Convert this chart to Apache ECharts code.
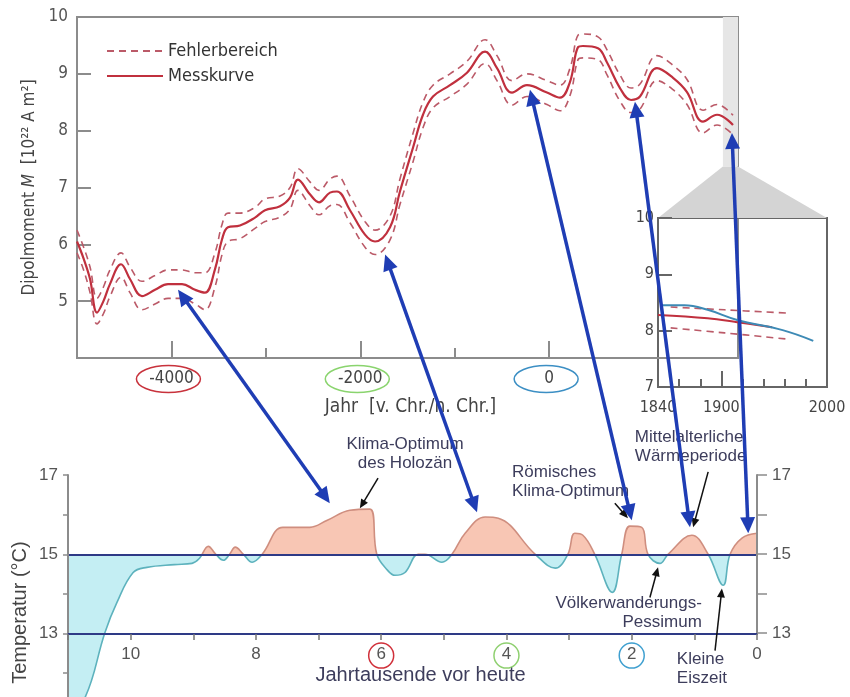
<!DOCTYPE html>
<html><head><meta charset="utf-8">
<script src="https://cdn.jsdelivr.net/npm/echarts@6/dist/echarts.min.js"></script>
<style>html,body{margin:0;padding:0;background:#fff}#c{width:850px;height:697px}</style>
</head><body><div id="c"></div>
<script>
// ===== Top chart: Dipolmoment =====
const years = [-5000,-4930,-4862,-4788,-4720,-4651,-4534,-4439,-4312,-4174,-4036,-3888,-3750,-3645,-3539,-3464,-3401,-3274,-3115,-3009,-2850,-2744,-2660,-2533,-2437,-2321,-2247,-2109,-1950,-1844,-1685,-1580,-1442,-1336,-1230,-1050,-870,-679,-552,-393,-235,-23,115,221,306,358,517,613,750,867,962,1142,1312,1460,1629,1778,1947];
const dipole = [6.05,5.75,5.39,4.8,5.0,5.3,5.65,5.39,5.09,5.2,5.3,5.3,5.2,5.15,5.56,6.09,6.3,6.33,6.47,6.6,6.67,6.82,7.14,6.88,6.74,6.91,6.93,6.6,6.17,6.05,6.3,6.93,7.7,8.28,8.6,8.8,9.02,9.39,9.1,8.67,8.8,8.67,8.58,8.86,9.47,9.49,9.45,9.2,8.75,8.54,8.6,9.1,8.93,8.68,8.16,8.28,8.1];
const dipoleUpper = [6.25,5.95,5.6,5.05,5.25,5.55,5.85,5.6,5.35,5.45,5.55,5.55,5.5,5.5,5.85,6.35,6.55,6.55,6.65,6.8,6.85,7.0,7.33,7.1,6.95,7.15,7.2,6.85,6.4,6.25,6.5,7.15,7.95,8.5,8.8,9.0,9.22,9.6,9.32,8.88,9.0,8.88,8.8,9.1,9.68,9.7,9.65,9.42,8.98,8.75,8.82,9.32,9.15,8.9,8.36,8.46,8.27];
const dipoleLower = [5.85,5.55,5.15,4.6,4.78,5.08,5.42,5.15,4.85,4.95,5.05,5.05,4.95,4.85,5.25,5.82,6.05,6.1,6.28,6.4,6.48,6.62,6.95,6.68,6.52,6.68,6.7,6.38,5.95,5.82,6.08,6.7,7.45,8.05,8.4,8.6,8.82,9.18,8.88,8.45,8.6,8.46,8.35,8.62,9.25,9.28,9.25,8.98,8.52,8.32,8.38,8.88,8.72,8.46,7.96,8.1,7.93];
const topMajorTicks = [-4000, -2000, 0];
const topMinorTicks = [-3000, -1000];
const topTickColors = ['#c8323c', '#8ad46e', '#3c8fc4'];
const zoomRange = [1840, 2000];
const zoomBandBottom = 7.37;

// ===== Inset 1840-2000 =====
const insetRedYears = [1840, 1887, 1915, 1948];
const insetRed = [8.28, 8.22, 8.15, 8.06];
const insetUpperYears = [1852, 1903, 1965];
const insetUpper = [8.42, 8.37, 8.31];
const insetLowerYears = [1852, 1903, 1963];
const insetLower = [8.05, 7.96, 7.85];
const insetBlueYears = [1842, 1865, 1887, 1915, 1958, 1987];
const insetBlue = [8.45, 8.45, 8.37, 8.19, 8.01, 7.82];
const insetXLabels = [1840, 1900, 2000];

// ===== Bottom chart: Temperatur =====
const tempKyr = [11.0,10.73,10.41,10.22,9.96,9.74,9.3,9.02,8.9,8.76,8.64,8.52,8.42,8.33,8.2,8.06,7.9,7.57,7.14,6.86,6.5,6.18,6.07,5.9,5.78,5.62,5.41,5.3,5.03,4.87,4.66,4.34,4.13,3.54,3.22,3.02,2.91,2.78,2.59,2.31,2.16,2.03,1.84,1.74,1.55,1.42,1.04,0.78,0.54,0.43,0.24,0.0];
const tempVal = [11.0,11.38,13.03,13.78,14.54,14.67,14.74,14.77,14.9,15.2,15.0,14.85,15.0,15.18,15.0,14.8,15.0,15.68,15.68,15.86,16.11,16.14,15.0,14.6,14.47,14.54,15.0,15.0,14.8,15.0,15.53,15.94,15.91,15.0,14.65,15.0,15.53,15.48,15.0,14.04,15.0,15.71,15.68,15.0,14.77,15.0,15.48,15.0,14.22,15.0,15.41,15.53];
const tempMean = 15;
const botXLabels = [10, 8, 6, 4, 2, 0];
const botCircled = [6, 4, 2];
const botCircleColors = ['#d0303a', '#8fd070', '#40a0d0'];
const botYTicks = [12, 13, 14, 15, 16, 17];
const botYLabels = [13, 15, 17];

// ===== Annotations =====
const noteTexts = ['Klima-Optimum\ndes Holozän', 'Römisches\nKlima-Optimum', 'Mittelalterliche\nWärmeperiode', 'Völkerwanderungs-\nPessimum', 'Kleine\nEiszeit'];
const noteAnchor = [[5.62, 17.53], [3.91, 16.82], [1.95, 17.71], [0.88, 13.53], [1.28, 12.11]];
const noteAlign = ['center', 'left', 'left', 'right', 'left'];
const noteArrowFrom = [[6.05, 16.92], [2.27, 16.29], [0.78, 17.08], [1.71, 13.91], [0.67, 12.57]];
const noteArrowTo = [[6.34, 16.16], [2.06, 15.91], [1.02, 15.68], [1.58, 14.67], [0.56, 14.14]];
const linkTop = [[-3930, 5.2], [-1737, 5.82], [-203, 8.72], [909, 8.51], [1936, 7.96]];
const linkBottom = [[6.82, 16.29], [4.47, 16.06], [2.0, 15.86], [1.07, 15.68], [0.14, 15.53]];

const zip = (a, b) => a.map((v, i) => [v, b[i]]);
const topFont = "'DejaVu Sans Condensed', 'Liberation Sans Narrow', 'DejaVu Sans', sans-serif";
const botFont = "'Liberation Sans', Arial, sans-serif";
const gray = '#8c8c8c';
const navy = '#2e3a86';
const noteColor = '#3d3d5c';
const redLine = '#c0303e';
const redDash = '#bb5a68';
const plain = v => String(v);
const botMin = 11.4, botMax = 17, botAxisAt = 13;

const chart = echarts.init(document.getElementById('c'));

const option = {
  animation: false,
  legend: {
    data: ['Fehlerbereich', 'Messkurve'], orient: 'vertical', left: 101, top: 37,
    itemWidth: 56, itemHeight: 12, itemGap: 7, itemStyle: {opacity: 0},
    textStyle: {fontFamily: topFont, fontSize: 18, color: '#333'}
  },
  grid: [
    {left: 77, top: 17, width: 661, height: 341, show: true, borderColor: gray, borderWidth: 2},
    {left: 658, top: 218, width: 169, height: 169, show: true, borderColor: '#666', borderWidth: 2},
    {left: 68, top: 475, width: 689, height: 222},
    {left: 68, top: 475, width: 689, height: 158}
  ],
  xAxis: [
    {gridIndex: 0, type: 'value', position: 'bottom', min: -5000, max: 2000, interval: 1000, splitLine: {show: false},
     axisLine: {onZero: false, lineStyle: {color: gray, width: 2}},
     axisTick: {inside: true, length: 17, customValues: topMajorTicks, lineStyle: {color: gray, width: 2}},
     axisLabel: {customValues: topMajorTicks, formatter: plain, margin: 12, fontFamily: topFont, fontSize: 17, color: '#444'},
     name: 'Jahr  [v. Chr./n. Chr.]', nameLocation: 'middle', nameGap: 40,
     nameTextStyle: {fontFamily: topFont, fontSize: 19, color: '#444', padding: [0, 0, 0, 6]}},
    {gridIndex: 0, type: 'value', position: 'bottom', min: -5000, max: 2000, interval: 1000, splitLine: {show: false},
     axisLine: {show: false, onZero: false},
     axisTick: {inside: true, length: 10, customValues: topMinorTicks, lineStyle: {color: gray, width: 2}},
     axisLabel: {show: false}},
    {gridIndex: 1, type: 'value', position: 'bottom', min: 1840, max: 2000, interval: 20, splitLine: {show: false},
     axisLine: {onZero: false, lineStyle: {color: '#666', width: 2}},
     axisTick: {inside: true, length: 8, lineStyle: {color: '#666', width: 2}},
     axisLabel: {customValues: insetXLabels, formatter: plain, margin: 13, fontFamily: topFont, fontSize: 16, color: '#444'}},
    {gridIndex: 1, type: 'value', position: 'bottom', min: 1840, max: 2000, splitLine: {show: false},
     axisLine: {show: false, onZero: false},
     axisTick: {inside: true, length: 16, customValues: [1900], lineStyle: {color: '#666', width: 2}},
     axisLabel: {show: false}},
    {gridIndex: 2, type: 'value', position: 'bottom', min: 0, max: 11, interval: 1, inverse: true, z: 6,
     offset: -Math.round((botAxisAt - botMin) / (botMax - botMin) * 222), splitLine: {show: false},
     axisLine: {onZero: false, lineStyle: {color: navy, width: 2}},
     axisTick: {length: 6, lineStyle: {color: '#777', width: 1.5}},
     axisLabel: {customValues: botXLabels, formatter: plain, margin: 12, fontFamily: botFont, fontSize: 17, color: '#555'},
     name: 'Jahrtausende vor heute', nameLocation: 'middle', nameGap: 31,
     nameTextStyle: {fontFamily: botFont, fontSize: 20, color: noteColor, padding: [0, 0, 0, 16]}},
    {gridIndex: 3, type: 'value', position: 'bottom', min: 0, max: 11, inverse: true, show: false}
  ],
  yAxis: [
    {gridIndex: 0, type: 'value', position: 'left', min: 4, max: 10, interval: 1, splitLine: {show: false},
     axisLine: {onZero: false, lineStyle: {color: gray, width: 2}},
     axisTick: {inside: true, length: 14, lineStyle: {color: gray, width: 2}},
     axisLabel: {formatter: v => (v === 4 ? '' : String(v)), margin: 9, fontFamily: topFont, fontSize: 17, color: '#555'},
     name: '{a|Dipolmoment }{i|M}{a|  [10²² A m²]}', nameLocation: 'middle', nameGap: 31,
     nameTextStyle: {rich: {a: {fontFamily: topFont, fontSize: 17, color: '#444'}, i: {fontFamily: topFont, fontSize: 17, fontStyle: 'italic', color: '#444'}}}},
    {gridIndex: 1, type: 'value', position: 'left', min: 7, max: 10, interval: 1, splitLine: {show: false},
     axisLine: {onZero: false, lineStyle: {color: '#666', width: 2}},
     axisTick: {inside: true, length: 14, lineStyle: {color: '#666', width: 2}},
     axisLabel: {margin: 4, fontFamily: topFont, fontSize: 16, color: '#444'}},
    {gridIndex: 2, type: 'value', position: 'left', min: botMin, max: botMax, z: 6, splitLine: {show: false},
     axisLine: {onZero: false, lineStyle: {color: gray, width: 2}},
     axisTick: {length: 5, customValues: botYTicks, lineStyle: {color: gray, width: 1.5}},
     axisLabel: {customValues: botYLabels, formatter: plain, margin: 10, fontFamily: botFont, fontSize: 17, color: '#555'}},
    {gridIndex: 3, type: 'value', position: 'right', min: 13, max: 17, interval: 1, z: 6, splitLine: {show: false},
     axisLine: {onZero: false, lineStyle: {color: gray, width: 2}},
     axisTick: {length: 10, lineStyle: {color: gray, width: 1.5}},
     axisLabel: {customValues: botYLabels, formatter: plain, margin: 15, fontFamily: botFont, fontSize: 17, color: '#555'}}
  ],
  visualMap: [
    {type: 'piecewise', show: false, seriesIndex: 7, dimension: 1,
     pieces: [{gte: 5, lt: tempMean, color: '#c4eef3'}, {gte: tempMean, lte: 25, color: '#f8c6b4'}]},
    {type: 'piecewise', show: false, seriesIndex: 8, dimension: 1,
     pieces: [{gte: 5, lt: tempMean, color: '#5db2bd'}, {gte: tempMean, lte: 25, color: '#cf8e7f'}]}
  ],
  series: [
    {name: 'Fehlerbereich', type: 'line', xAxisIndex: 0, yAxisIndex: 0, data: zip(years, dipoleUpper), smooth: 0.4, symbol: 'none',
     lineStyle: {color: redDash, width: 1.6, type: [7, 5]}, itemStyle: {color: redDash},
     markArea: {silent: true, itemStyle: {color: '#e6e6e6'}, data: [[{coord: [zoomRange[0], zoomBandBottom]}, {coord: [zoomRange[1], 10]}]]}},
    {name: 'Fehlerbereich', type: 'line', xAxisIndex: 0, yAxisIndex: 0, data: zip(years, dipoleLower), smooth: 0.4, symbol: 'none',
     lineStyle: {color: redDash, width: 1.6, type: [7, 5]}, itemStyle: {color: redDash}},
    {name: 'Messkurve', type: 'line', xAxisIndex: 0, yAxisIndex: 0, data: zip(years, dipole), smooth: 0.4, symbol: 'none',
     lineStyle: {color: redLine, width: 2.2}, itemStyle: {color: redLine}},
    {name: 'inset-mess', type: 'line', xAxisIndex: 2, yAxisIndex: 1, data: zip(insetRedYears, insetRed), smooth: 0.4, symbol: 'none',
     lineStyle: {color: redLine, width: 2}},
    {name: 'inset-up', type: 'line', xAxisIndex: 2, yAxisIndex: 1, data: zip(insetUpperYears, insetUpper), smooth: 0.4, symbol: 'none',
     lineStyle: {color: redDash, width: 1.6, type: [7, 5]}},
    {name: 'inset-low', type: 'line', xAxisIndex: 2, yAxisIndex: 1, data: zip(insetLowerYears, insetLower), smooth: 0.4, symbol: 'none',
     lineStyle: {color: redDash, width: 1.6, type: [7, 5]}},
    {name: 'inset-blue', type: 'line', xAxisIndex: 2, yAxisIndex: 1, data: zip(insetBlueYears, insetBlue), smooth: 0.4, symbol: 'none',
     lineStyle: {color: '#3d8ab5', width: 2}},
    {name: 'temp-area', type: 'line', xAxisIndex: 4, yAxisIndex: 2, data: zip(tempKyr, tempVal), smooth: 0.4, symbol: 'none',
     lineStyle: {width: 0}, areaStyle: {origin: tempMean, opacity: 1}},
    {name: 'temp-line', type: 'line', xAxisIndex: 4, yAxisIndex: 2, data: zip(tempKyr, tempVal), smooth: 0.4, symbol: 'none',
     lineStyle: {width: 1.6}, z: 3,
     markLine: {silent: true, symbol: 'none', label: {show: false}, lineStyle: {color: navy, width: 2, type: 'solid'}, data: [{yAxis: tempMean}]}}
  ]
};
chart.setOption(option);

// ===== Annotations drawn through the axis scales =====
const P = (xi, yi, p) => chart.convertToPixel({xAxisIndex: xi, yAxisIndex: yi}, p);
const topPx = p => P(0, 0, p), insetPx = p => P(2, 1, p), botPx = p => P(4, 2, p);

function arrowEls(p1, p2, color, lw, headLen, headW, both, z) {
  const dx = p2[0] - p1[0], dy = p2[1] - p1[1], L = Math.hypot(dx, dy);
  const ux = dx / L, uy = dy / L, nx = -uy, ny = ux;
  const head = (t, dx2, dy2) => ({type: 'polygon', z, shape: {points: [[t[0], t[1]],
    [t[0] - dx2 * headLen + nx * headW, t[1] - dy2 * headLen + ny * headW],
    [t[0] - dx2 * headLen - nx * headW, t[1] - dy2 * headLen - ny * headW]]}, style: {fill: color}});
  const a = both ? [p1[0] + ux * headLen * 0.7, p1[1] + uy * headLen * 0.7] : p1;
  const b = [p2[0] - ux * headLen * 0.7, p2[1] - uy * headLen * 0.7];
  const els = [{type: 'line', z, shape: {x1: a[0], y1: a[1], x2: b[0], y2: b[1]}, style: {stroke: color, lineWidth: lw}}, head(p2, ux, uy)];
  if (both) els.push(head(p1, -ux, -uy));
  return els;
}

const g = [];
const b1 = topPx([zoomRange[0], zoomBandBottom]), b2 = topPx([zoomRange[1], zoomBandBottom]);
const i1 = insetPx([zoomRange[1], 10]), i2 = insetPx([zoomRange[0], 10]);
g.push({type: 'polygon', z: 0, shape: {points: [b1, b2, i1, i2]}, style: {fill: '#d4d4d4'}});
topMajorTicks.forEach((v, i) => {
  const p = topPx([v, 4]);
  g.push({type: 'ellipse', z: 5, shape: {cx: p[0] - 3, cy: p[1] + 21, rx: 32, ry: 13.5}, style: {fill: 'none', stroke: topTickColors[i], lineWidth: 1.5}});
});
botCircled.forEach((v, i) => {
  const p = botPx([v, botAxisAt]);
  g.push({type: 'circle', z: 5, shape: {cx: p[0], cy: p[1] + 22, r: 12.5}, style: {fill: 'none', stroke: botCircleColors[i], lineWidth: 1.5}});
});
const tp = botPx([11, 13.53]);
g.push({type: 'text', z: 5, x: tp[0] - 48, y: tp[1], rotation: Math.PI / 2,
  style: {text: 'Temperatur (°C)', fontFamily: botFont, fontSize: 20, fill: '#444', align: 'center', verticalAlign: 'middle'}});
noteTexts.forEach((t, i) => {
  const p = botPx(noteAnchor[i]);
  g.push({type: 'text', z: 20, x: p[0], y: p[1], style: {text: t, fontFamily: botFont, fontSize: 17, lineHeight: 19, fill: noteColor, align: noteAlign[i], verticalAlign: 'middle'}});
  g.push(...arrowEls(botPx(noteArrowFrom[i]), botPx(noteArrowTo[i]), '#111', 1.5, 9, 4, false, 21));
});
linkTop.forEach((t, i) => {
  g.push(...arrowEls(topPx(t), botPx(linkBottom[i]), '#1f3db4', 3.5, 16, 7.5, true, 30));
});
chart.setOption({graphic: g});
</script>
</body></html>
